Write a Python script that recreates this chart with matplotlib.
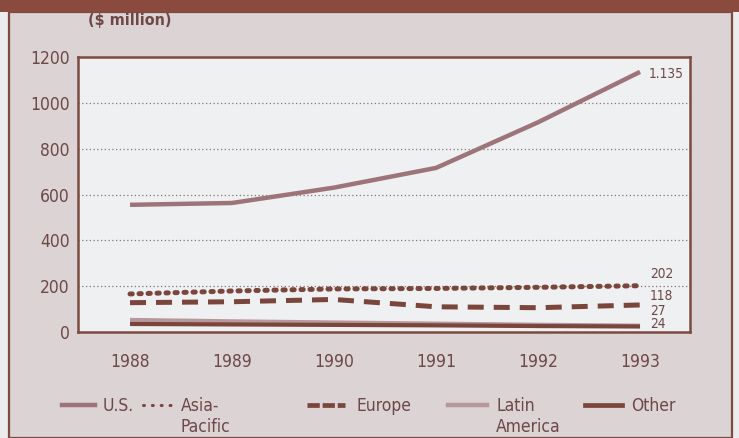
import matplotlib
matplotlib.use("Agg")
import matplotlib.pyplot as plt
from matplotlib.patches import Rectangle
from matplotlib.lines import Line2D

plt.rcParams['font.family'] = ['DejaVu Sans']
plt.rcParams['font.stretch'] = 'condensed'

years = [1988, 1989, 1990, 1991, 1992, 1993]
us = [555, 563, 630, 716, 915, 1135]
asia_pacific = [166, 179, 188, 190, 195, 202]
europe = [128, 132, 142, 110, 106, 118]
latin_america = [52, 46, 41, 36, 31, 27]
other = [35, 33, 31, 29, 26, 24]
end_labels = ['1.135', '202', '118', '27', '24']
yticks = [0, 200, 400, 600, 800, 1000, 1200]

brown = '#7d4a40'
text_col = '#6e4747'
c_us = '#9c7479'
c_latin = '#b8979b'
c_dark = '#7a463c'

fig = plt.figure(figsize=(7.39, 4.38), dpi=100, facecolor='#ecebee')

# panel and header band
fig.add_artist(Rectangle((9 / 739, 0), 723 / 739, 1 - 12 / 438,
                         transform=fig.transFigure, facecolor='#dcd3d4',
                         edgecolor=brown, lw=1.6, zorder=0))
fig.add_artist(Rectangle((0, 1 - 12 / 438), 1, 12 / 438,
                         transform=fig.transFigure, facecolor='#8a4b3e',
                         edgecolor='none', zorder=1))

ax = fig.add_axes([78 / 739, 1 - 332 / 438, 612 / 739, 275 / 438])
ax.set_facecolor('#eef0f2')

ax.plot(years, us, color=c_us, lw=3.2, solid_capstyle='butt', zorder=3)
ax.plot(years, asia_pacific, color=c_dark, lw=3.6, linestyle=(0, (0.45, 1.35)),
        dash_capstyle='round', zorder=3)
ax.plot(years, europe, color=c_dark, lw=3.6, linestyle=(0, (3.2, 2.0)),
        dash_capstyle='butt', zorder=3)
ax.plot(years, latin_america, color=c_latin, lw=3.2, solid_capstyle='butt', zorder=3)
ax.plot(years, other, color=c_dark, lw=3.0, solid_capstyle='butt', zorder=3)

# value labels at the right end
last = [us[-1], asia_pacific[-1], europe[-1], latin_america[-1], other[-1]]
offsets = [(6, -1.5), (7, 8.6), (7, 6.5), (7, 10.5), (7, 1.5)]
for lab, v, off in zip(end_labels, last, offsets):
    ax.annotate(lab, (years[-1], v), xytext=off, textcoords='offset points',
                fontsize=9.8, color=text_col, va='center', ha='left')

ax.set_xlim(1987.49, 1993.49)
ax.set_ylim(0, 1200)
ax.set_xticks(years)
ax.set_yticks(yticks)
ax.tick_params(length=0, labelsize=12.5, labelcolor=text_col)
ax.tick_params(axis='x', pad=15)
ax.tick_params(axis='y', pad=6)
ax.grid(axis='y', color='#8a7474', lw=0.9, linestyle=(0, (1, 2)))
ax.set_axisbelow(True)
for s in ax.spines.values():
    s.set_color(brown)
    s.set_linewidth(1.8)

fig.text(88 / 739, 1 - 20 / 438, '($ million)', fontsize=11.5, fontweight='bold',
         color=text_col, va='center', ha='left')

# legend row
legend_items = [
    ('U.S.', c_us, '-', 3.2, 62, 95, 103),
    ('Asia-\nPacific', c_dark, (0, (0.3, 2.6)), 2.2, 143, 173, 181),
    ('Europe', c_dark, (0, (2.6, 0.6)), 3.4, 307, 345, 356),
    ('Latin\nAmerica', c_latin, '-', 3.2, 448, 487, 496),
    ('Other', c_dark, '-', 3.4, 585, 622, 631),
]
ly = 1 - 405 / 438
for lab, col, ls, lw, x0, x1, tx in legend_items:
    fig.add_artist(Line2D([x0 / 739, x1 / 739], [ly, ly], transform=fig.transFigure,
                          color=col, lw=lw, linestyle=ls,
                          dash_capstyle='round' if lab.startswith('Asia') else 'butt'))
    fig.text(tx / 739, 1 - 397 / 438, lab, fontsize=12.5, color=text_col,
             va='top', ha='left', linespacing=1.25)

fig.savefig('out.png', dpi=100, facecolor=fig.get_facecolor())
